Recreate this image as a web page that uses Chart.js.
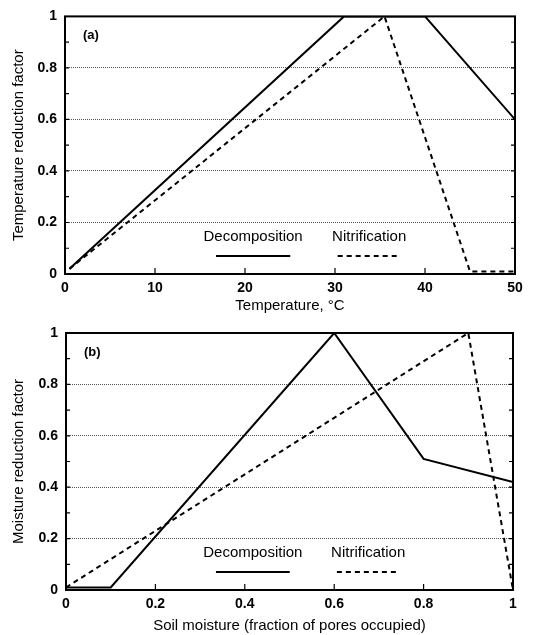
<!DOCTYPE html>
<html>
<head>
<meta charset="utf-8">
<script src="https://cdn.jsdelivr.net/npm/chart.js@4/dist/chart.umd.min.js"></script>
<style>
  body { margin: 0; background: #fff; }
  canvas { display: block; }
</style>
</head>
<body>
<canvas id="tempChart" width="543" height="315"></canvas>
<canvas id="moistChart" width="543" height="320"></canvas>
<script>
// Panel (a): temperature reduction factor
const tempDecompX = [0.5, 31, 40, 50];
const tempDecompY = [0.02, 1, 1, 0.6];
const tempNitrX = [0.5, 35.5, 45, 50];
const tempNitrY = [0.02, 1, 0.01, 0.01];

// Panel (b): moisture reduction factor
const moistDecompX = [0, 0.1, 0.6, 0.8, 1];
const moistDecompY = [0.01, 0.01, 1, 0.51, 0.42];
const moistNitrX = [0, 0.9, 1];
const moistNitrY = [0.01, 1, 0];

const seriesNames = ["Decomposition", "Nitrification"];
const tempTicks = [0, 10, 20, 30, 40, 50];
const moistTicks = [0, 0.2, 0.4, 0.6, 0.8, 1];
const yTicks = [0, 0.2, 0.4, 0.6, 0.8, 1];

const FONT = "'Liberation Sans', Arial, sans-serif";

function toPoints(xs, ys) {
    return xs.map((x, i) => ({ x: x, y: ys[i] }));
}

// plain number labels: 1 not 1.0
function fmt(v) {
    return String(+Number(v).toFixed(2));
}

// frame, inner ticks, panel letter and in-plot legend
const framePlugin = {
    id: "frame",
    afterDraw(chart, args, opts) {
        const ctx = chart.ctx;
        const a = chart.chartArea;
        const xs = chart.scales.x;
        const ys = chart.scales.y;
        ctx.save();
        ctx.strokeStyle = "#000";

        // small inward ticks on x axis
        ctx.lineWidth = 1.2;
        xs.ticks.forEach(t => {
            const px = xs.getPixelForValue(t.value);
            if (px <= a.left + 1 || px >= a.right - 1) return;
            ctx.beginPath();
            ctx.moveTo(px, a.bottom);
            ctx.lineTo(px, a.bottom - 6);
            ctx.stroke();
        });
        // minor ticks on y axis (left and right)
        for (let i = 0; i < ys.ticks.length - 1; i++) {
            const mid = (ys.ticks[i].value + ys.ticks[i + 1].value) / 2;
            [ys.ticks[i + 1].value, mid].forEach(v => {
                const py = ys.getPixelForValue(v);
                if (py <= a.top + 1) return;
                ctx.beginPath();
                ctx.moveTo(a.left, py); ctx.lineTo(a.left + 4, py);
                ctx.moveTo(a.right, py); ctx.lineTo(a.right - 4, py);
                ctx.stroke();
            });
        }

        // frame
        ctx.lineWidth = 2;
        ctx.strokeRect(a.left, a.top, a.right - a.left, a.bottom - a.top);

        // panel letter
        ctx.fillStyle = "#000";
        ctx.font = "bold 13px " + FONT;
        ctx.textAlign = "left";
        ctx.textBaseline = "middle";
        ctx.fillText(opts.letter, a.left + 18, a.top + 19);

        // legend
        ctx.font = "15px " + FONT;
        ctx.textAlign = "center";
        chart.data.datasets.forEach((ds, i) => {
            const it = opts.items[i];
            const cx = a.left + it.cx * (a.right - a.left);
            const w = it.w * (a.right - a.left);
            ctx.fillText(ds.label, cx, a.top + opts.textY * (a.bottom - a.top));
            const ly = a.top + opts.lineY * (a.bottom - a.top);
            ctx.lineWidth = ds.borderWidth;
            ctx.setLineDash(ds.borderDash || []);
            ctx.beginPath();
            ctx.moveTo(cx - w / 2, ly);
            ctx.lineTo(cx + w / 2, ly);
            ctx.stroke();
            ctx.setLineDash([]);
        });
        ctx.restore();
    }
};

function makeChart(id, cfg) {
    return new Chart(document.getElementById(id), {
        type: "scatter",
        data: {
            datasets: [
                {
                    label: seriesNames[0],
                    data: toPoints(cfg.decompX, cfg.decompY),
                    showLine: true,
                    borderColor: "#000",
                    borderWidth: 2,
                    pointRadius: 0,
                    tension: 0
                },
                {
                    label: seriesNames[1],
                    data: toPoints(cfg.nitrX, cfg.nitrY),
                    showLine: true,
                    borderColor: "#000",
                    borderWidth: 2,
                    borderDash: [5, 4],
                    pointRadius: 0,
                    tension: 0
                }
            ]
        },
        options: {
            responsive: false,
            animation: false,
            layout: { padding: { top: cfg.padTop, right: cfg.padRight, left: 0, bottom: 0 } },
            plugins: {
                legend: { display: false },
                tooltip: { enabled: false },
                frame: {
                    letter: cfg.letter,
                    textY: 0.857,
                    lineY: 0.93,
                    items: [{ cx: 0.418, w: 0.165 }, { cx: 0.676, w: 0.14 }]
                }
            },
            scales: {
                x: {
                    type: "linear",
                    min: cfg.xTicks[0],
                    max: cfg.xTicks[cfg.xTicks.length - 1],
                    afterBuildTicks: s => { s.ticks = cfg.xTicks.map(v => ({ value: v })); },
                    afterFit: s => { s.height = cfg.xHeight; },
                    grid: { display: false, drawTicks: false },
                    border: { display: false },
                    ticks: {
                        color: "#000",
                        padding: 6,
                        callback: v => fmt(v),
                        font: { family: FONT, size: 14, weight: "bold" }
                    },
                    title: {
                        display: true,
                        text: cfg.xTitle,
                        color: "#000",
                        padding: { top: 2, bottom: 0 },
                        font: { family: FONT, size: 15 }
                    }
                },
                y: {
                    type: "linear",
                    min: 0,
                    max: 1,
                    afterBuildTicks: s => { s.ticks = yTicks.map(v => ({ value: v })); },
                    afterFit: s => { s.width = cfg.yWidth; },
                    grid: {
                        drawTicks: false,
                        color: c => (c.tick && (c.tick.value === 0 || c.tick.value === 1)) ? "rgba(0,0,0,0)" : "#555",
                        lineWidth: 1
                    },
                    border: { display: false, dash: [1, 1] },
                    ticks: {
                        color: "#000",
                        padding: 8,
                        callback: v => fmt(v),
                        font: { family: FONT, size: 14, weight: "bold" }
                    },
                    title: {
                        display: true,
                        text: cfg.yTitle,
                        color: "#000",
                        padding: { top: 10, bottom: 4 },
                        font: { family: FONT, size: 15 }
                    }
                }
            }
        },
        plugins: [framePlugin]
    });
}

document.addEventListener("DOMContentLoaded", () => {
    makeChart("tempChart", {
        decompX: tempDecompX, decompY: tempDecompY,
        nitrX: tempNitrX, nitrY: tempNitrY,
        xTicks: tempTicks, letter: "(a)",
        xTitle: "Temperature, \u00B0C",
        yTitle: "Temperature reduction factor",
        padTop: 15, padRight: 28, yWidth: 65, xHeight: 41
    });
    makeChart("moistChart", {
        decompX: moistDecompX, decompY: moistDecompY,
        nitrX: moistNitrX, nitrY: moistNitrY,
        xTicks: moistTicks, letter: "(b)",
        xTitle: "Soil moisture (fraction of pores occupied)",
        yTitle: "Moisture reduction factor",
        padTop: 18, padRight: 30, yWidth: 66, xHeight: 45
    });
});
</script>
</body>
</html>
